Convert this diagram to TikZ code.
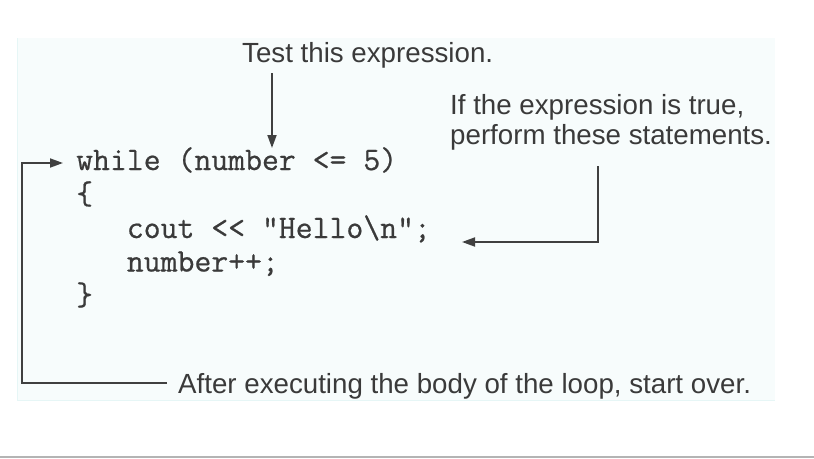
\documentclass[tikz,border=0pt]{standalone}
\usepackage{fontspec}
\setmainfont{Liberation Sans}
\newfontfamily\codefont[FakeBold=0.6]{Latin Modern Mono}
\usetikzlibrary{arrows.meta}
\definecolor{ink}{HTML}{3A3A3A}
\definecolor{lineink}{HTML}{404040}
\definecolor{panel}{HTML}{F7FCFC}
\definecolor{paneledge}{HTML}{E6F6F6}
\definecolor{rule}{HTML}{B4B4B4}
\tikzset{
  note/.style={inner sep=0pt, anchor=base west, text=ink, font=\fontsize{27.7pt}{30pt}\selectfont},
  code/.style={inner sep=0pt, anchor=base west, text=ink, font=\codefont\fontsize{32.8pt}{35pt}\selectfont},
  conn/.style={draw=lineink, line width=1.8pt},
  arr/.style={conn, -{Triangle[length=13pt,width=9pt]}}
}
\begin{document}
\begin{tikzpicture}[x=1pt,y=-1pt]
\useasboundingbox (0,0) rectangle (814,458);
% panel and bottom rule
\fill[panel] (17,38) rectangle (775,400);
\draw[paneledge, line width=0.8pt] (17,38) -- (17,400) -- (775,400);
\draw[rule, line width=2pt] (0,457) -- (814,457);
% annotation texts
\node[note] (test) at (242,62) {Test this expression.};
\node[note] (iftrue) at (450,114) {If the expression is true,};
\node[note] (perform) at (450,144) {perform these statements.};
\node[note] (after) at (178,393) {After executing the body of the loop, start over.};
% code lines
\node[code] (cwhile) at (76,170) {while (number <= 5)};
\node[code] (copen) at (76,204) {\{};
\node[code] (ccout) at (76,238) {\ \ \ cout << "Hello\textbackslash n";};
\node[code] (cinc) at (76,271.5) {\ \ \ number++;};
\node[code] (cclose) at (76,305) {\}};
% coordinates for connector ends
\coordinate (testfoot) at (272,73);
\coordinate (testtip) at (272,148);
\coordinate (perffoot) at (598,166);
\coordinate (perfcorner) at (598,242);
\coordinate (bodytip) at (462,242);
\coordinate (afterstart) at (167,383);
\coordinate (loopbl) at (22,383);
\coordinate (looptl) at (22,163);
\coordinate (whiletip) at (63,163);
% connectors
\draw[arr] (testfoot) -- (testtip);
\draw[arr] (perffoot) -- (perfcorner) -- (bodytip);
\draw[arr] (afterstart) -- (loopbl) -- (looptl) -- (whiletip);
\end{tikzpicture}
\end{document}
